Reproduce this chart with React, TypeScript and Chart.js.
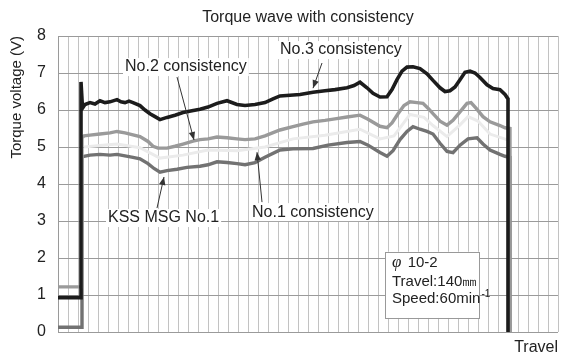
import React, { useEffect, useRef } from "react";
import { Chart, registerables } from "chart.js";

Chart.register(...registerables);

const FONT = "'Liberation Sans', Arial, sans-serif";

const chartTitle = "Torque wave with consistency";
const yAxisTitle = "Torque voltage (V)";
const xAxisTitle = "Travel";
const yTicks = [0, 1, 2, 3, 4, 5, 6, 7, 8];

// No.3 consistency (black)
const travelNo3 = [0, 2.3, 2.3, 2.45, 2.7, 3.2, 3.7, 4.2, 4.7, 5.2, 5.9, 6.3, 6.7, 7.1, 7.5, 8.2, 8.7, 9.2, 9.7, 10.2, 10.9, 11.7, 12.5, 13.4, 14.2, 15.0, 15.9, 16.9, 17.9, 18.7, 19.7, 20.7, 21.5, 22.2, 23.2, 24.2, 25.5, 26.7, 27.7, 28.9, 29.6, 30.2, 30.9, 31.5, 32.2, 32.9, 33.4, 33.9, 34.4, 34.9, 35.5, 36.2, 36.9, 37.5, 38.2, 38.7, 39.2, 39.7, 40.2, 40.7, 41.2, 41.7, 42.2, 42.9, 43.5, 44.2, 44.7, 45.0, 45.0];
const voltNo3 = [0.93, 0.93, 6.76, 6.05, 6.15, 6.2, 6.16, 6.25, 6.2, 6.22, 6.28, 6.22, 6.2, 6.24, 6.2, 6.12, 6.0, 5.9, 5.82, 5.74, 5.8, 5.86, 5.93, 5.98, 6.02, 6.08, 6.18, 6.25, 6.15, 6.12, 6.15, 6.2, 6.3, 6.38, 6.4, 6.42, 6.48, 6.52, 6.55, 6.6, 6.66, 6.75, 6.6, 6.45, 6.35, 6.36, 6.55, 6.82, 7.05, 7.16, 7.17, 7.12, 6.98, 6.8, 6.6, 6.5, 6.52, 6.62, 6.82, 7.02, 7.05, 7.0, 6.88, 6.68, 6.58, 6.55, 6.42, 6.3, 0];

// No.2 consistency (light grey)
const travelNo2 = [0, 2.4, 2.4, 2.6, 3.2, 4.2, 5.2, 5.9, 6.7, 7.5, 8.2, 9.0, 9.5, 10.0, 10.9, 11.7, 12.5, 13.5, 14.2, 15.0, 15.9, 16.9, 17.9, 18.7, 19.7, 20.7, 22.2, 23.5, 24.5, 25.5, 26.7, 27.7, 28.9, 30.2, 31.0, 32.2, 32.9, 33.4, 34.0, 34.6, 35.2, 35.9, 36.5, 37.0, 37.5, 38.2, 38.9, 39.5, 40.2, 40.9, 41.3, 41.8, 42.5, 43.2, 44.2, 44.7, 45.2, 45.2];
const voltNo2 = [1.22, 1.22, 5.25, 5.3, 5.32, 5.35, 5.38, 5.42, 5.38, 5.33, 5.28, 5.15, 5.02, 4.97, 4.97, 5.02, 5.08, 5.16, 5.2, 5.22, 5.27, 5.25, 5.22, 5.2, 5.22, 5.3, 5.46, 5.55, 5.62, 5.68, 5.72, 5.76, 5.81, 5.86, 5.75, 5.56, 5.52, 5.65, 5.9, 6.12, 6.22, 6.2, 6.18, 6.05, 5.9, 5.7, 5.59, 5.72, 5.95, 6.18, 6.2, 6.05, 5.82, 5.68, 5.58, 5.52, 5.5, 0];

// No.1 consistency (very light trace)
const travelNo1 = [2.6, 4.2, 5.9, 8.2, 10.2, 12.5, 15.0, 17.9, 20.7, 23.5, 26.7, 30.2, 32.2, 33.6, 35.2, 36.6, 37.5, 38.9, 40.2, 41.0, 42.0, 43.2, 45.1];
const voltNo1 = [5.0, 5.04, 5.08, 4.98, 4.7, 4.78, 4.92, 4.9, 5.0, 5.22, 5.32, 5.48, 5.22, 5.3, 5.88, 5.8, 5.58, 5.28, 5.6, 5.82, 5.7, 5.35, 5.18];

// KSS MSG No.1 (mid grey)
const travelKss = [0, 2.4, 2.4, 2.6, 3.2, 4.2, 5.2, 5.9, 6.7, 7.5, 8.2, 9.0, 9.6, 10.2, 10.9, 11.9, 12.9, 14.2, 15.0, 15.9, 16.9, 17.9, 18.7, 19.7, 20.7, 22.2, 23.5, 25.5, 27.0, 28.9, 30.2, 31.0, 32.2, 32.9, 33.5, 34.2, 34.9, 35.5, 36.2, 36.9, 37.5, 38.2, 38.9, 39.5, 40.2, 41.0, 41.9, 42.5, 43.2, 44.2, 44.7, 45.2, 45.2];
const voltKss = [0.13, 0.13, 4.72, 4.75, 4.78, 4.8, 4.78, 4.8, 4.76, 4.72, 4.68, 4.55, 4.42, 4.32, 4.36, 4.4, 4.45, 4.48, 4.52, 4.6, 4.58, 4.55, 4.52, 4.58, 4.72, 4.92, 4.95, 4.96, 5.05, 5.12, 5.15, 5.05, 4.85, 4.75, 4.9, 5.2, 5.42, 5.55, 5.48, 5.42, 5.35, 5.1, 4.88, 4.85, 5.05, 5.22, 5.25, 5.08, 4.92, 4.8, 4.75, 4.72, 0];

// Annotation labels (data coordinates: left x, centre y) and arrows
const noteTexts = ["No.2 consistency", "No.3 consistency", "No.1 consistency", "KSS MSG No.1"];
const noteX = [6.7, 22.2, 19.4, 5.0];
const noteY = [7.16, 7.62, 3.24, 3.08];
const arrowFromX = [11.9, 26.4, 20.4, 9.9];
const arrowFromY = [6.89, 7.27, 3.51, 3.35];
const arrowToX = [13.6, 25.5, 19.9, 10.6];
const arrowToY = [5.19, 6.59, 4.86, 4.19];

// Info box
const boxX = [32.7, 42.1];
const boxY = [2.17, 0.38];
const boxLines = ["10-2", "Travel:140㎜", "Speed:60min"];
const boxLineY = [1.87, 1.35, 0.89];

const pts = (xs: number[], ys: number[]) => xs.map((x, i) => ({ x, y: ys[i] }));

const notesPlugin = {
  id: "notes",
  afterDatasetsDraw(chart: any) {
    const { ctx, scales } = chart;
    const sx = scales.x;
    const sy = scales.y;
    ctx.save();
    ctx.strokeStyle = "#333";
    ctx.fillStyle = "#333";
    ctx.lineWidth = 1;
    for (let i = 0; i < arrowFromX.length; i++) {
      const x1 = sx.getPixelForValue(arrowFromX[i]);
      const y1 = sy.getPixelForValue(arrowFromY[i]);
      const x2 = sx.getPixelForValue(arrowToX[i]);
      const y2 = sy.getPixelForValue(arrowToY[i]);
      ctx.beginPath();
      ctx.moveTo(x1, y1);
      ctx.lineTo(x2, y2);
      ctx.stroke();
      const ang = Math.atan2(y2 - y1, x2 - x1);
      const L = 8;
      const W = 3.2;
      ctx.beginPath();
      ctx.moveTo(x2, y2);
      ctx.lineTo(x2 - L * Math.cos(ang) + W * Math.sin(ang), y2 - L * Math.sin(ang) - W * Math.cos(ang));
      ctx.lineTo(x2 - L * Math.cos(ang) - W * Math.sin(ang), y2 - L * Math.sin(ang) + W * Math.cos(ang));
      ctx.closePath();
      ctx.fill();
    }
    ctx.font = `16px ${FONT}`;
    ctx.textBaseline = "middle";
    ctx.textAlign = "left";
    for (let i = 0; i < noteTexts.length; i++) {
      const x = sx.getPixelForValue(noteX[i]);
      const y = sy.getPixelForValue(noteY[i]);
      const w = ctx.measureText(noteTexts[i]).width;
      ctx.fillStyle = "#ffffff";
      ctx.fillRect(x - 2, y - 9, w + 4, 18);
      ctx.fillStyle = "#222";
      ctx.fillText(noteTexts[i], x, y);
    }
    const bx1 = sx.getPixelForValue(boxX[0]);
    const bx2 = sx.getPixelForValue(boxX[1]);
    const by1 = sy.getPixelForValue(boxY[0]);
    const by2 = sy.getPixelForValue(boxY[1]);
    ctx.fillStyle = "#ffffff";
    ctx.fillRect(bx1, by1, bx2 - bx1, by2 - by1);
    ctx.strokeStyle = "#999";
    ctx.lineWidth = 1;
    ctx.strokeRect(Math.round(bx1) + 0.5, Math.round(by1) + 0.5, Math.round(bx2 - bx1), Math.round(by2 - by1));
    const tx = bx1 + 7;
    ctx.fillStyle = "#222";
    let ly = sy.getPixelForValue(boxLineY[0]);
    ctx.font = `italic 17px 'Liberation Serif', serif`;
    ctx.fillText("φ", tx, ly);
    const pw = ctx.measureText("φ ").width;
    ctx.font = `15px ${FONT}`;
    ctx.fillText(boxLines[0], tx + pw + 2, ly);
    ly = sy.getPixelForValue(boxLineY[1]);
    ctx.fillText(boxLines[1], tx, ly);
    ly = sy.getPixelForValue(boxLineY[2]);
    ctx.fillText(boxLines[2], tx, ly);
    const w3 = ctx.measureText(boxLines[2]).width;
    ctx.font = `10px ${FONT}`;
    ctx.fillText("-1", tx + w3 + 1, ly - 5);
    ctx.restore();
  },
};

export default function App() {
  const ref = useRef<HTMLCanvasElement | null>(null);

  useEffect(() => {
    if (!ref.current) return;
    Chart.defaults.font.family = FONT;
    const chart = new Chart(ref.current, {
      type: "line",
      data: {
        datasets: [
          { label: "No.3 consistency", data: pts(travelNo3, voltNo3), borderColor: "#1c1c1c", borderWidth: 3.6, order: 0 },
          { label: "No.2 consistency", data: pts(travelNo2, voltNo2), borderColor: "#9a9a9a", borderWidth: 3.4, order: 1 },
          { label: "KSS MSG No.1", data: pts(travelKss, voltKss), borderColor: "#727272", borderWidth: 3.4, order: 2 },
          { label: "No.1 consistency", data: pts(travelNo1, voltNo1), borderColor: "#ebebeb", borderWidth: 3, order: 3 },
        ],
      },
      options: {
        responsive: false,
        animation: false,
        devicePixelRatio: 1,
        layout: { padding: { left: 0, right: 3, top: 0, bottom: 0 } },
        elements: { point: { radius: 0 }, line: { tension: 0 } },
        plugins: {
          legend: { display: false },
          tooltip: { enabled: false },
          title: {
            display: true,
            text: chartTitle,
            fullSize: false,
            color: "#222",
            font: { size: 16, weight: "normal", family: FONT },
            padding: { top: 8, bottom: 8.8 },
          },
        },
        scales: {
          x: {
            type: "linear",
            min: 0,
            max: 50,
            ticks: { display: false, stepSize: 1, maxTicksLimit: 100 },
            grid: { color: "#c2c2c2", drawTicks: false },
            border: { display: false },
            title: { display: true, text: xAxisTitle, align: "end", color: "#222", font: { size: 16 }, padding: 0 },
            afterFit: (s: any) => {
              s.height = 25;
            },
          },
          y: {
            type: "linear",
            min: 0,
            max: 8,
            afterBuildTicks: (s: any) => {
              s.ticks = yTicks.map((v) => ({ value: v }));
            },
            ticks: { padding: 12, color: "#222", font: { size: 16 } },
            grid: { color: "#9a9a9a", drawTicks: false },
            border: { color: "#9a9a9a" },
            title: { display: true, text: yAxisTitle, align: "end", color: "#222", font: { size: 15 }, padding: { top: 8, bottom: 0 } },
            afterFit: (s: any) => {
              s.width = 58;
            },
          },
        },
      },
      plugins: [notesPlugin],
    } as any);
    return () => chart.destroy();
  }, []);

  return (
    <div style={{ position: "absolute", left: 0, top: 0, width: 561, height: 357, background: "#fff" }}>
      <canvas ref={ref} width={561} height={357} />
    </div>
  );
}
